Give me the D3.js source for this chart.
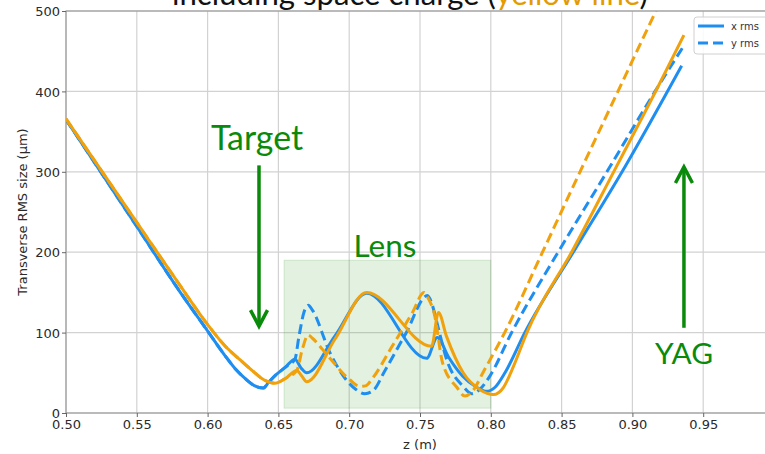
<!DOCTYPE html>
<html><head><meta charset="utf-8">
<script src="https://cdn.jsdelivr.net/npm/d3@7"></script>
<style>body{margin:0;background:#fff;} svg{display:block;}</style>
</head><body><svg id="c" width="765" height="454"></svg>
<script>
// ---------------- data ----------------
const xTicks = [0.50,0.55,0.60,0.65,0.70,0.75,0.80,0.85,0.90,0.95];
const yTicks = [0,100,200,300,400,500];
const xTickLabels = ["0.50","0.55","0.60","0.65","0.70","0.75","0.80","0.85","0.90","0.95"];
const seriesNames = ["x rms","y rms"];

// [z (m), size (um)]  -- without space charge (blue)
const xRmsNoSC = [[0.500,365],[0.550,232],[0.580,152],[0.600,102],[0.612,72],[0.620,54],[0.627,42],[0.633,34],[0.6393,31],[0.643,38],[0.648,47],[0.655,57],[0.6617,67],[0.666,56],[0.670,50],[0.690,96],[0.7124,149],[0.7547,68],[0.7622,94],[0.770,70],[0.780,46],[0.790,32],[0.797,27],[0.803,32],[0.810,50],[0.824,100],[0.860,205],[0.895,307],[0.9348,432]];
const yRmsNoSC = [[0.500,365],[0.550,232],[0.580,152],[0.600,102],[0.612,72],[0.620,54],[0.627,42],[0.633,34],[0.6393,31],[0.643,38],[0.648,47],[0.655,57],[0.6617,67],[0.6645,95],[0.668,125],[0.6711,134],[0.674,128],[0.6864,75],[0.698,41],[0.705,29],[0.711,24],[0.717,28],[0.725,52],[0.740,99],[0.7552,146],[0.758,138],[0.762,112],[0.7689,66],[0.7805,33],[0.7865,24],[0.792,29],[0.799,45],[0.8147,100],[0.8475,200],[0.882,300],[0.916,400],[0.9357,455]];
// with space charge (orange)
const xRmsSC = [[0.500,366],[0.550,237],[0.580,160],[0.600,110],[0.612,84],[0.623,66],[0.632,52],[0.640,41],[0.6476,37],[0.655,43],[0.663,53],[0.6665,46],[0.670,39],[0.690,92],[0.7124,150],[0.7582,83],[0.763,125],[0.7688,95],[0.7805,50],[0.7924,29],[0.8018,23],[0.809,32],[0.816,58],[0.8255,100],[0.858,203],[0.8877,303],[0.917,402],[0.9364,470]];
const yRmsSC = [[0.500,366],[0.550,237],[0.580,160],[0.600,110],[0.612,84],[0.623,66],[0.632,52],[0.640,41],[0.6476,37],[0.655,43],[0.663,53],[0.667,80],[0.671,97],[0.674,93],[0.685,71],[0.7006,41],[0.7076,33],[0.712,34],[0.716,42],[0.730,82],[0.745,126],[0.7528,150],[0.756,142],[0.760,124],[0.766,62],[0.776,32],[0.7818,21],[0.787,27],[0.795,52],[0.8098,100],[0.8365,200],[0.863,300],[0.8898,400],[0.9139,490],[0.936,572]];

// lens region [zStart, zEnd] and [yLow, yHigh]
const lensZ = [0.654, 0.800];
const lensY = [6, 190];
// annotations
const annLabels = ["Target","Lens","YAG"];
const annZ = [0.6349, 0.7253, 0.9364];
const annY = [327, 194, 61];
const annWidthZ = [0.065, 0.0445, 0.041];
const arrowZ = [0.6363, 0.9364];
const arrowFrom = [308, 106];
const arrowTo = [108, 306];
const titleParts = ["including space charge (","yellow line",")"];

// ---------------- drawing ----------------
const blue = "#1f8ef1", orange = "#f0a10c", green = "#0a8a0a";
const svg = d3.select("#c");
const x = d3.scaleLinear([0.5, 1.0], [66, 774]);
const y = d3.scaleLinear([0, 500], [413, 11]);
const [L, R] = x.range(), [B, T] = y.range();

svg.append("defs").append("clipPath").attr("id","clip")
  .append("rect").attr("x",L).attr("y",T).attr("width",R-L).attr("height",B-T);

// grid
const grid = svg.append("g");
grid.selectAll("line.gx").data(xTicks).join("line")
  .attr("x1",d=>x(d)).attr("x2",d=>x(d)).attr("y1",T).attr("y2",B)
  .attr("stroke","#d2d2d2").attr("stroke-width",1.2);
grid.selectAll("line.gy").data(yTicks).join("line").attr("class","gy")
  .attr("x1",L).attr("x2",R).attr("y1",d=>y(d)).attr("y2",d=>y(d))
  .attr("stroke","#d2d2d2").attr("stroke-width",1.2);

// lens region
svg.append("rect")
  .attr("x",x(lensZ[0])).attr("y",y(lensY[1]))
  .attr("width",x(lensZ[1])-x(lensZ[0])).attr("height",y(lensY[0])-y(lensY[1]))
  .attr("fill","rgba(60,160,50,0.15)").attr("stroke","rgba(60,160,50,0.18)");

// spines
svg.append("rect").attr("x",L).attr("y",T).attr("width",R-L).attr("height",B-T)
  .attr("fill","none").attr("stroke","#8c8c8c").attr("stroke-width",1);

// axes
const xAxis = svg.append("g").attr("transform",`translate(0,${B})`)
  .call(d3.axisBottom(x).tickValues(xTicks).tickFormat((d,i)=>xTickLabels[i]).tickSize(4).tickPadding(3));
const yAxis = svg.append("g").attr("transform",`translate(${L},0)`)
  .call(d3.axisLeft(y).tickValues(yTicks).tickFormat(d3.format("d")).tickSize(4).tickPadding(2));
[xAxis,yAxis].forEach(a=>{
  a.select(".domain").remove();
  a.selectAll("line").attr("stroke","#666");
  a.selectAll("text").attr("font-family","DejaVu Sans").attr("font-size",13).attr("fill","#2a2a2a");
});
yAxis.selectAll("text").attr("dy","0.36em");

svg.append("text").attr("x",(L+R)/2).attr("y",449).attr("text-anchor","middle")
  .attr("font-family","DejaVu Sans").attr("font-size",13).attr("fill","#2a2a2a").text("z (m)");
svg.append("text").attr("transform",`translate(22,${(T+B)/2}) rotate(-90)`)
  .attr("text-anchor","middle").attr("dominant-baseline","central")
  .attr("font-family","DejaVu Sans").attr("font-size",13).attr("fill","#2a2a2a")
  .text("Transverse RMS size (μm)");

// lines
const line = d3.line().x(d=>x(d[0])).y(d=>y(d[1])).curve(d3.curveMonotoneX);
const plot = svg.append("g").attr("clip-path","url(#clip)");
const series = [
  {d:xRmsNoSC, c:blue, dash:null},
  {d:yRmsNoSC, c:blue, dash:"10,5"},
  {d:xRmsSC, c:orange, dash:null},
  {d:yRmsSC, c:orange, dash:"10,5"}
];
plot.selectAll("path.s").data(series).join("path")
  .attr("d",s=>line(s.d)).attr("fill","none").attr("stroke",s=>s.c)
  .attr("stroke-width",3).attr("stroke-linejoin","round")
  .attr("stroke-dasharray",s=>s.dash);

// legend
const lg = svg.append("g");
lg.append("rect").attr("x",694).attr("y",17).attr("width",90).attr("height",37).attr("rx",3)
  .attr("fill","rgba(255,255,255,0.85)").attr("stroke","#d0d0d0");
seriesNames.forEach((n,i)=>{
  lg.append("line").attr("x1",698).attr("x2",724).attr("y1",26+i*17).attr("y2",26+i*17)
    .attr("stroke",blue).attr("stroke-width",3).attr("stroke-dasharray",i?"10,5":null);
  lg.append("text").attr("x",731).attr("y",26+i*17).attr("dy","0.35em")
    .attr("font-family","DejaVu Sans").attr("font-size",10).attr("fill","#333").text(n);
});

// annotations
function fit(sel, w){ const cur = sel.node().getComputedTextLength(); sel.attr("font-size", parseFloat(sel.attr("font-size"))*w/cur); }
annLabels.forEach((t,i)=>{
  const tx = svg.append("text").attr("x",x(annZ[i])).attr("y",y(annY[i])).attr("text-anchor","middle")
    .attr("font-family","Lato").attr("font-size",30).attr("fill",green).text(t);
  fit(tx, x(annZ[i]+annWidthZ[i]/2)-x(annZ[i]-annWidthZ[i]/2));
});
arrowZ.forEach((z,i)=>{
  const x0 = x(z), y0 = y(arrowFrom[i]), y1 = y(arrowTo[i]);
  const dir = y1 > y0 ? 1 : -1;
  svg.append("line").attr("x1",x0).attr("x2",x0).attr("y1",y0).attr("y2",y1-dir*1.5)
    .attr("stroke",green).attr("stroke-width",3.5);
  svg.append("path").attr("d",`M${x0-8.5},${y1-dir*16} L${x0},${y1} L${x0+8.5},${y1-dir*16}`)
    .attr("fill","none").attr("stroke",green).attr("stroke-width",3.5);
});

// clipped title
const title = svg.append("text").attr("x",172).attr("y",5)
  .attr("font-family","Lato").attr("font-size",26).attr("fill","#111");
titleParts.forEach((p,i)=>title.append("tspan").attr("fill",i===1?"#e39b00":"#111").text(p));
fit(title, 476);
</script></body></html>
